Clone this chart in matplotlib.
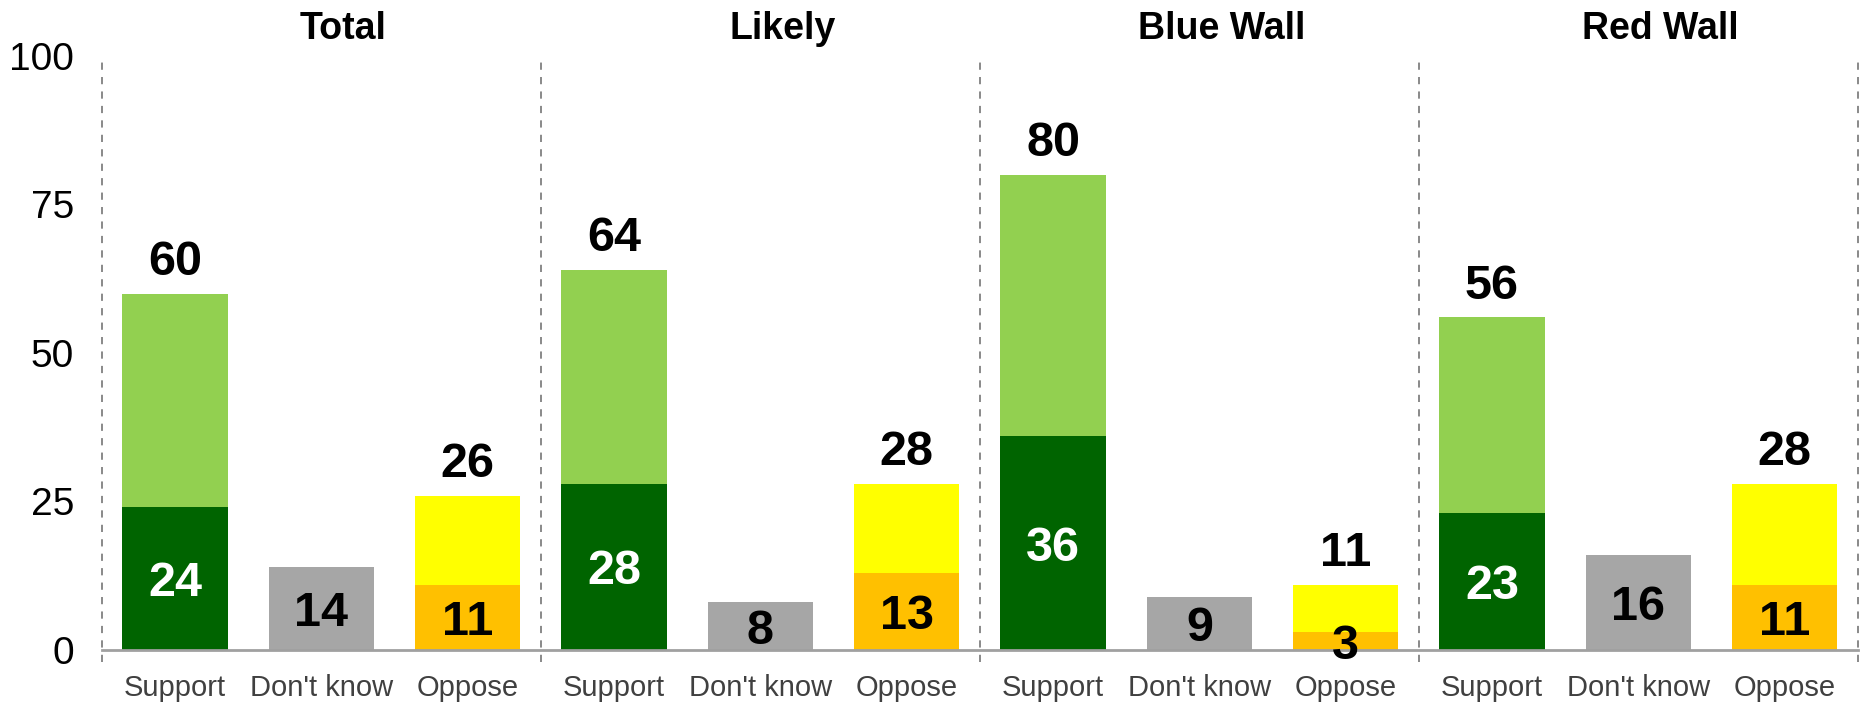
import matplotlib.pyplot as plt
import numpy as np

plt.rcParams['font.family'] = ['Liberation Sans', 'DejaVu Sans']

# Data
groups = ['Total', 'Likely', 'Blue Wall', 'Red Wall']
answers = ['Support', "Don't know", 'Oppose']
support_total = [60, 64, 80, 56]
support_strong = [24, 28, 36, 23]
dont_know = [14, 8, 9, 16]
oppose_total = [26, 28, 11, 28]
oppose_strong = [11, 13, 3, 11]

dark_green = '#006400'
light_green = '#92D050'
grey = '#A6A6A6'
orange = '#FFC000'
yellow = '#FFFF00'

fig = plt.figure(figsize=(18.64, 7.03), dpi=100)
ax = fig.add_axes([0.0547, 0.0754, 0.942, 0.845])

n = len(groups)
x_sup = np.arange(n) * 3
x_dk = x_sup + 1
x_opp = x_sup + 2
w = 0.72

sup_rest = [t - s for t, s in zip(support_total, support_strong)]
opp_rest = [t - s for t, s in zip(oppose_total, oppose_strong)]

ax.bar(x_sup, support_strong, w, color=dark_green)
ax.bar(x_sup, sup_rest, w, bottom=support_strong, color=light_green)
ax.bar(x_dk, dont_know, w, color=grey)
ax.bar(x_opp, oppose_strong, w, color=orange)
ax.bar(x_opp, opp_rest, w, bottom=oppose_strong, color=yellow)

num_font = dict(fontsize=35, fontweight='bold')

for i in range(n):
    # totals on top
    ax.annotate(str(support_total[i]), (x_sup[i], support_total[i]), xytext=(0, 6),
                textcoords='offset points', ha='center', va='bottom', **num_font)
    ax.annotate(str(oppose_total[i]), (x_opp[i], oppose_total[i]), xytext=(0, 6),
                textcoords='offset points', ha='center', va='bottom', **num_font)
    # inner labels
    ax.text(x_sup[i], support_strong[i] / 2, str(support_strong[i]), ha='center',
            va='center_baseline', color='white', **num_font)
    ax.text(x_dk[i], dont_know[i] / 2, str(dont_know[i]), ha='center',
            va='center_baseline', color='black', **num_font)
    ax.text(x_opp[i], oppose_strong[i] / 2, str(oppose_strong[i]), ha='center',
            va='center_baseline', color='black', **num_font)
    # group title
    ax.text(x_dk[i] + 0.15, 104.5, groups[i], ha='center', va='center', fontsize=27,
            fontweight='bold', clip_on=False)

# dashed separators
for xs in np.arange(n + 1) * 3 - 0.5:
    ax.plot([xs, xs], [-2, 100], ls=(0, (4, 4)), color='#808080', lw=1.3, clip_on=False)

ax.set_xlim(-0.5, 3 * n - 0.5)
ax.set_ylim(0, 100)
ax.set_yticks([0, 25, 50, 75, 100])
ax.tick_params(axis='y', length=0, pad=20, labelsize=28)

ax.set_xticks(np.arange(3 * n))
ax.set_xticklabels(answers * n)
ax.tick_params(axis='x', length=0, pad=17, labelsize=21, labelcolor='#404040')

for s in ['top', 'right', 'left']:
    ax.spines[s].set_visible(False)
ax.spines['bottom'].set_color('#A0A0A0')
ax.spines['bottom'].set_linewidth(2)

fig.savefig('out.png', dpi=100)
